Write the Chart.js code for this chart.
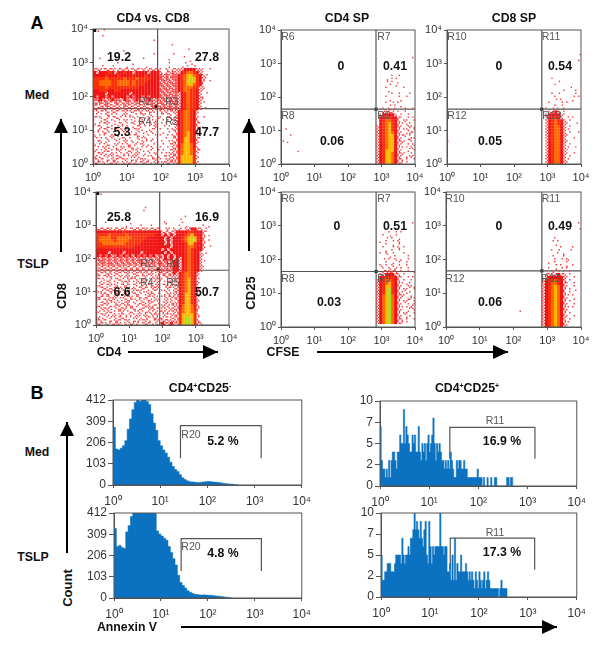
<!DOCTYPE html>
<html>
<head>
<meta charset="utf-8">
<title>CD4 CD8 flow panels</title>
<script src="https://cdn.jsdelivr.net/npm/chart.js@4"></script>
<style>
  html, body { margin: 0; padding: 0; background: #fff; }
  #page { position: relative; width: 600px; height: 645px; overflow: hidden; font-family: "Liberation Sans", Arial, sans-serif; }
  #page canvas { position: absolute; filter: blur(.45px); }
  #arrows { position: absolute; left: 0; top: 0; }
  .lbl { position: absolute; transform: translate(-50%, -50%); white-space: nowrap; color: #111; font-weight: bold; font-size: 12.3px; line-height: 1; }
  .big { font-size: 18px; color: #000; }
  .reg { font-weight: normal; font-size: 10.5px; color: #555; }
  .up { transform: translate(-50%, -50%) rotate(-90deg); font-size: 13px; }
  .lbl sup { font-size: 7px; line-height: 0; vertical-align: 4px; }
</style>
</head>
<body>
<div id="page">
  <svg id="arrows" width="600" height="645"></svg>
</div>
<script>
/* -----------------------
data
density rows: 45 rows top to bottom, "start|cells"
. empty, a-d one dot, e-g several dots, 2-6 solid red to green
-------------------------- */
const cd8Med = [
  ".d.b", "", "...a", "20|c", "", "26|a", "31|d", "10|a", "20|a.....b",
  "2|c.............d.............a",
  "7|b.................a......c",
  "8|a....c...........a....b.d",
  "3|a..b....c.....d.......c...d.a.b",
  "fefbefeafefebefaeafefea.e.feee2222eea.b",
  "2e22232e22322e2222e222e.fegee234432ea",
  "2222322232222322232222gfgegg23455432eb",
  "3333433333433343333222gfgfgg23456532ea",
  "3344443344443433332222fgegfg23456532f.b",
  "3344443344443433322222gfgfgg23455432a",
  "3333433333333332222222fgfgfg2344433ee",
  "2233322332222222222222gfgegg2344332ea",
  "2222e2222222e222222222fgfgfge234332e.b",
  "2g22g2g2222g2g22g2g222gfgegge234332ec",
  "gg2gfg2ggf2gfg2gfg2gfgfgfgfge234332ea",
  "efgfgfagfefgefgfagfgfegfefgge234332eb",
  "faefgfefeagfefefefagfefgegfge234332e",
  "efaefbefeaefebefefefeagfegfge234332e.a",
  "aebaecefabeaefaeabefcaebfbee234432e",
  ".ab.ecab.deac.abeabc.ababe.e234432a",
  "bae.dabecab.aebd.cab.ea.be.e234432f.b",
  "a.dbe.acb.eabd.ca.ebda.ab.ae234432e",
  "d.abea.cbe.abe.dab.ceab.a.ee234432fa",
  "abe.dca.ebda.cbe.ab.ea.b.a.f234432e.c",
  ".dabe.abceda.beac.dba.a.b.ef234432fa",
  "ab.ecab.d.eab.cadb.e.a.c.a.e234532e",
  "e.ab.deac.b.abecd.a.b.a.b.ef234532b",
  ".ab.e.acdbe.a.bcae.d.a..a.be235532fa",
  "abe.ca.bd.eabcd.eb.a.cb..aef235532e",
  "e.abdc.eab.ecdabe.c.a..a.bee245542a",
  "ab.eacbd.eabecd.ab.e.aa.b.ef245542e",
  "eabdecabeabdcaebd.ca.b.a.bee345543fa",
  "abeacdeb.acebdea.cb.eab.aeef345543b",
  "eacbdaebecabdeacb.ae.d.baefe355553e",
  "febadcefabeadcfbeacbeaa.eeff355553a",
  "efaebdfeabcefdabefacebbfefee355553f"
];
const cd8Tslp = [
  ".d", "", "", "", "", "16|b", "16|a", "", "30|a", "28|b",
  "3|a.......d...........e.....a",
  "10|c....a..b.........a.d.....a.c",
  "efefeafefeabefefeafefa.bf.e.f.ef22fe.a",
  "2222222223222222222222efefe222233222fa",
  "3333433333433333333322e2f2e222345322e.c",
  "34444334444433333222222e2e2223456532f",
  "34444434444333332222222f2e2223456532e.a",
  "33444444443333322222222e2f2222355322f",
  "3333333333333222222222222e2222344322e.b",
  "2222222222222222222222e2f22222343222a",
  "2222e2222e22222e2222222e2f222234322e.c",
  "2g2g2fg2g2g2f2g2g2g2fgf2e2f22234322ea",
  "gfgfgfgfgfgfgfgfgfgfgfe2f2e2e234322e",
  "fggfgfgfgfgfgfggfgfgfgfgfg22e234322eb",
  "gfgfggfgfgfgfgfgfgfgfggfgf22e234322e",
  "efefefefeefefefefeefeffgfg22e234322ea",
  "efefefefefefefefefefefgfgf22e234322e",
  "ebaefcefabeaefaeaefcafefef2e234432e",
  "fabeecabfdeacfabeabceabefeee234432a",
  "bae.dabecabfaebdecabfea.beef234532b",
  "afdbe.acbfeabdeca.ebda.abeae234532e",
  "dfabeaecbefabe.dabeceabeafee234532a",
  "abefdcaeebdafcbefabfea.bfaef234532e",
  "edabefabcedafbeacfdba.aeb.ef234532f",
  "abfecabedfeabecadbfe.a.ceaee235532a",
  "efabedeacfbeabecdfaeb.aebeef235532b",
  "fabeefacdbefaebcaefdea.eaebe235532e",
  "abefcaebdfeabcdfebfa.cbeaeff235532a",
  "efabdcfeabfecdabefcfa.eafbee245542e",
  "abfeacbdfeabecdfabfebaaebfef245542f",
  "eabdecabeabdcaebdfcafbeafbee345543a",
  "abeacdebfacebdeafcbfeabfaeef355553e",
  "eacbdaebecabdeacbfaefdfbaefe356653b",
  "febadcefabeadcfbeacbeaefeeff356653e",
  "efaebdfeabcefdabefaceb2fe2fe356653fe"
];
const cd25Cd4Med = [
  "", "", "", "", "", "", "", "", "", "44|a", "", "", "", "", "",
  "37|a.b", "35|d.ab", "34|.b.a.c.......a", "36|b.d", "35|a.....a", "36|c",
  "37|a.b...a", "33|..a...b..a", "36|d...c.....b", "35|a.b.a", "36|b.a.c.....a",
  "34|a.e.a..b..a", "34|feef.a.b",
  "33|e2222e.a.b..a", "33|223322fa.b.a", "33|234432e.ea.b", "33|234532fb.ca",
  "32|e234532ea.bfd", "1|b;32|e234532f.ae.b", "32|e234542ea.cfa",
  "3|a;32|e234552fbe.a", "32|e234552ea.dfb.a", "0|b;2|c;32|e234552fea.b", "32|e234552ea.b.ea",
  "32|e234552fb.afc", "5|d;32|e235552ea.d.b", "32|e235542fea.b", "32|e235542ea.cea",
  "32|e235542fe.a.b", "32|e235542ef.a"
];
const cd25Cd8Med = [
  "", "", "", "", "", "", "", "", "44|b", "", "44|a", "", "", "", "", "",
  "35|a", "37|b", "36|a", "41|b", "37|..a...a..a", "35|a.b.....a", "36|a.....b.a",
  "35|.b.a...c", "34|a...b.a", "36|a.b", "33|a.b.a.a", "33|.ef2e.a",
  "33|e2222ea", "33|e2332e.b.a", "33|e23432e.a", "33|e23432ea..b",
  "33|e23442e.a", "33|e23442eb", "33|e23442e.a..a", "33|e23442ea",
  "33|e23442e..b", "0|a;33|e23442ea", "33|e23442e.a", "33|e23442eb..a",
  "33|e23442ea", "33|e23442ea.b", "33|e23442e.a", "33|e23442eb", "33|e23442ea"
];
const cd25Cd4Tslp = [
  "", "", "", "", "", "", "", "", "", "", "44|a", "", "",
  "36|a.b.a", "34|a.d.b", "35|b.a.d", "33|c.a.b.e", "35|a.d.b", "34|a..b.e.a",
  "35|c.a.b", "33|a.e.b...a", "36|d.a...b", "34|b.a.e.c.b", "35|a.d.b..a",
  "33|e.a.e.b..a", "34|a.e.f.a.b", "34|feefe.a.b.d",
  "33|ef222fe.a", "33|233332fa.b.a", "32|e234432e.a.b", "32|e234532fb.ca",
  "32|e235532ea.bfd.a", "32|e235632f.ea.b", "32|e235632eb.ca",
  "32|e245642fea.d", "32|e245642ea.dfb.a", "32|e245642f.ea.b", "32|e245642ea.b.f",
  "32|e245642fb.afc", "32|e245642ea.d.b", "32|e245642f.ea.b", "32|e245642ea.ca",
  "32|e245642fe.a.b", "32|e245642ef.a"
];
const cd25Cd8Tslp = [
  "", "", "", "", "", "", "", "", "", "", "44|a", "", "44|b", "", "",
  "36|a", "35|b.a", "36|d", "38|a...a", "35|a.b...b", "37|a.c", "35|b...a",
  "36|a.b.e", "34|c.a...a", "36|b.a.c.a", "34|a.d.b.a", "33|a.e.b.a.a",
  "33|feef2fe.a", "33|e22222ea.b", "32|e233432e.a", "32|e234432fa.b",
  "32|e234542ea.b", "32|e234542f.a.c", "32|e234542e.a", "32|e234542fb.a",
  "32|e234542ea.d", "32|e234542f.a", "32|e234542ea.b", "32|e234542fb.a",
  "24|d;32|e234542ea", "32|e234542f.a", "32|e234542ea.b", "32|e234542e.a", "32|e234542fb", "32|e234542ea"
];

// quadrant gates and gate handles, in decades
const gateCd8Med = [1.90, 1.64];
const gateCd8Tslp = [1.915, 1.646];
const gateCd4Med = [2.836, 1.636];
const gateCd8SpMed = [2.83, 1.636];
const gateCd4Tslp = [2.84, 1.644];
const gateCd8SpTslp = [2.84, 1.663];
const handleCd8Med = [1.85, 1.71];
const handleCd8Tslp = [1.87, 1.68];
const cornerMark = [0.05, 3.96];

// annexin histograms, counts per bin
const annexinMed = [280, 175, 170, 178, 190, 215, 270, 320, 365, 400, 430, 405, 430, 440, 405, 390, 345, 300, 265, 215, 190, 170, 155, 135, 110, 90, 75, 65, 50, 35, 27, 20, 16, 15, 14, 12, 12, 13, 15, 16, 17, 16, 14, 14, 12, 11, 9, 7, 6, 4, 4, 2, 1, 0];
const annexinTslp = [337, 250, 255, 245, 240, 320, 350, 395, 425, 440, 450, 460, 470, 460, 465, 470, 450, 430, 325, 310, 300, 290, 280, 250, 220, 190, 160, 110, 75, 60, 48, 35, 28, 22, 18, 17, 15, 14, 15, 14, 13, 13, 11, 10, 9, 7, 6, 4, 3, 1, 0];
const annexinRegMed = [7, 3, 2, 2, 1, 2, 1, 3, 1, 3, 4, 4, 3, 2, 4, 4, 6, 5, 5, 9, 5, 7, 6, 5, 4, 4, 6, 5, 6, 4, 4, 7, 4, 3, 5, 4, 5, 3, 5, 6, 4, 5, 6, 8, 5, 3, 5, 4, 5, 4, 3, 3, 2, 3, 2, 3, 2, 4, 3, 2, 1, 1, 3, 2, 3, 3, 2, 2, 3, 2, 2, 1, 1, 1, 1, 1, 1, 1, 1, 2, 1, 1, 1, 0, 1, 0, 0, 1, 0, 0, 1, 0, 0, 1, 1, 0, 0, 0, 0, 0, 0, 0, 0, 1, 1, 0, 1, 1, 0];
const annexinRegTslp = [5, 2, 2, 3, 3, 4, 4, 4, 3, 3, 3, 4, 5, 5, 5, 5, 4, 7, 5, 4, 5, 5, 6, 5, 7, 7, 8, 10, 8, 9, 8, 7, 9, 7, 6, 8, 9, 5, 4, 9, 6, 4, 6, 5, 6, 6, 6, 6, 10, 6, 6, 5, 6, 6, 3, 3, 4, 2, 5, 2, 7, 2, 4, 3, 3, 5, 3, 3, 3, 4, 3, 2, 3, 2, 3, 2, 1, 3, 2, 1, 3, 2, 1, 2, 3, 1, 2, 3, 2, 1, 1, 1, 1, 1, 1, 1, 0, 1, 2, 1, 1, 1, 1, 0];
const r20Med = [1.43, 3.14, 130, 288];
const r20Tslp = [1.43, 3.14, 131, 288];
const r11Med = [1.42, 3.15, 3.2, 6.9];
const r11Tslp = [1.415, 3.14, 3.24, 7];

// tick labels
const decadeTicks = [1, 10, 100, 1000, 10000];
const decadeLabels = ["10\u2070", "10\u00b9", "10\u00b2", "10\u00b3", "10\u2074"];
const countTicks = [0, 103, 206, 309, 412];
const countLabels = ["0", "103", "206", "309", "412"];
const smallTicks = [0, 2.5, 5, 7.5, 10];
const smallLabels = ["0", "2", "5", "7", "10"];

/* -----------------------
helpers
-------------------------- */
const page = document.getElementById("page");
const blue = "#0a72c0";
const lineGray = "#555";
const tickFont = { family: "'Liberation Sans', Arial, sans-serif", size: 11 };

const frame = {
  id: "frame",
  afterDatasetsDraw(chart) {
    const a = chart.chartArea;
    chart.ctx.save();
    chart.ctx.strokeStyle = lineGray;
    chart.ctx.lineWidth = 1;
    chart.ctx.strokeRect(a.left, a.top, a.right - a.left, a.bottom - a.top);
    chart.ctx.restore();
  }
};

function addCanvas(box, left, top, right, bottom) {
  const c = document.createElement("canvas");
  c.width = box.r - box.l + left + right;
  c.height = box.b - box.t + top + bottom;
  c.style.left = (box.l - left) + "px";
  c.style.top = (box.t - top) + "px";
  page.appendChild(c);
  return c;
}

function logAxis(fit, pad) {
  return {
    type: "logarithmic",
    min: 1,
    max: 10000,
    afterBuildTicks(s) { s.ticks = decadeTicks.map(v => ({ value: v })); },
    afterFit(s) { if (s.isHorizontal()) s.height = fit; else s.width = fit; },
    grid: { drawOnChartArea: false, tickLength: 3, color: lineGray },
    border: { color: lineGray },
    ticks: {
      autoSkip: false, maxRotation: 0, padding: pad, color: "#333", font: tickFont,
      callback: v => decadeLabels[decadeTicks.indexOf(v)]
    }
  };
}

// turns the density rows into one dataset per colour
const dotSpots = { a: [[-.25, -.25]], b: [[.25, -.25]], c: [[-.25, .25]], d: [[.25, .25]],
  e: [[-.25, -.25], [.25, .25]], f: [[.25, -.25], [-.25, .25]],
  g: [[-.25, -.25], [.25, -.25], [-.25, .25], [.25, .25]] };
const solidColors = { 2: "#f01414", 3: "#f9300a", 4: "#ff6a00", 5: "#ffb800", 6: "#a8e020" };

function densitySets(rows) {
  const dots = [];
  const solids = { 2: [], 3: [], 4: [], 5: [], 6: [] };
  const cell = 4 / 45;
  rows.forEach((row, r) => {
    row.split(";").forEach(part => {
      const bits = part.split("|");
      const start = bits.length > 1 ? Number(bits[0]) : 0;
      const cells = bits[bits.length - 1];
      for (let i = 0; i < cells.length; i++) {
        const ch = cells[i];
        const cx = start + i + .5;
        const cy = r + .5;
        if (dotSpots[ch]) {
          dotSpots[ch].forEach(o => dots.push({ x: 10 ** ((cx + o[0]) * cell), y: 10 ** (4 - (cy + o[1]) * cell) }));
        } else if (solids[ch]) {
          solids[ch].push({ x: 10 ** (cx * cell), y: 10 ** (4 - cy * cell) });
        }
      }
    });
  });
  const sets = [{ data: dots, pointRadius: 1, backgroundColor: "#f63a3a" }];
  Object.keys(solids).forEach(k => {
    sets.push({ data: solids[k], pointRadius: 2.2, backgroundColor: solidColors[k] });
  });
  return sets;
}

function flowChart(box, rows, gate, handle, corner) {
  const at = v => 10 ** v;
  const sets = densitySets(rows);
  sets.push({ type: "line", data: [{ x: at(gate[0]), y: 1 }, { x: at(gate[0]), y: 10000 }], borderColor: lineGray, pointRadius: 0 });
  sets.push({ type: "line", data: [{ x: 1, y: at(gate[1]) }, { x: 10000, y: at(gate[1]) }], borderColor: lineGray, pointRadius: 0 });
  const marks = [{ x: at(handle[0]), y: at(handle[1]) }];
  if (corner) marks.push({ x: at(corner[0]), y: at(corner[1]) });
  sets.push({ data: marks, pointRadius: 2.2, backgroundColor: "#000" });
  sets.forEach(s => { s.pointStyle = s.type ? false : "rect"; s.pointBorderWidth = 0; s.borderWidth = s.type ? 1.2 : 0; });

  new Chart(addCanvas(box, 34, 10, 14, 22), {
    type: "scatter",
    data: { datasets: sets },
    plugins: [frame],
    options: {
      responsive: false,
      animation: false,
      layout: { padding: { top: 10, right: 14 } },
      plugins: { legend: { display: false }, tooltip: { enabled: false } },
      scales: { x: logAxis(22, 4), y: logAxis(34, 2) }
    }
  });
}

function histChart(box, counts, step, bracket, ticks, labels, top) {
  const bars = counts.map((v, i) => ({ x: 10 ** (i * step), y: v }));
  const b = bracket;
  const gate = [
    { x: 10 ** b[0], y: b[2] }, { x: 10 ** b[0], y: b[3] },
    { x: 10 ** b[1], y: b[3] }, { x: 10 ** b[1], y: b[2] }
  ];
  new Chart(addCanvas(box, 34, 10, 14, 24), {
    type: "line",
    data: {
      datasets: [
        { data: bars, stepped: true, fill: "origin", backgroundColor: blue, borderColor: blue, borderWidth: .6, pointRadius: 0 },
        { data: gate, borderColor: lineGray, borderWidth: 1.2, pointRadius: 0, fill: false }
      ]
    },
    plugins: [frame],
    options: {
      responsive: false,
      animation: false,
      layout: { padding: { top: 10, right: 14 } },
      plugins: { legend: { display: false }, tooltip: { enabled: false } },
      scales: {
        x: Object.assign(logAxis(24, 6), { ticks: { autoSkip: false, maxRotation: 0, padding: 6, color: "#333", font: { family: tickFont.family, size: 12 }, callback: v => decadeLabels[decadeTicks.indexOf(v)] } }),
        y: {
          min: 0,
          max: top,
          afterBuildTicks(s) { s.ticks = ticks.map(v => ({ value: v })); },
          afterFit(s) { s.width = 34; },
          grid: { drawOnChartArea: false, tickLength: 5, color: lineGray },
          border: { color: lineGray },
          ticks: { autoSkip: false, padding: 2, color: "#333", font: { family: tickFont.family, size: 12 }, callback: v => labels[ticks.indexOf(v)] }
        }
      }
    }
  });
}

function label(text, x, y, cls) {
  const d = document.createElement("div");
  d.className = "lbl " + (cls || "");
  d.innerHTML = text;
  d.style.left = x + "px";
  d.style.top = y + "px";
  page.appendChild(d);
}

function arrow(x1, y1, x2, y2, hx, hy) {
  // shaft from (x1,y1) to the tip (x2,y2), head base half width hy
  const svg = document.getElementById("arrows");
  const ns = "http://www.w3.org/2000/svg";
  const l = document.createElementNS(ns, "line");
  l.setAttribute("x1", x1); l.setAttribute("y1", y1);
  l.setAttribute("x2", x2); l.setAttribute("y2", y2);
  l.setAttribute("stroke", "#000"); l.setAttribute("stroke-width", 2);
  svg.appendChild(l);
  const p = document.createElementNS(ns, "polygon");
  const pts = x1 === x2
    ? [[x2, y2], [x2 - hy, y2 + hx], [x2 + hy, y2 + hx]]
    : [[x2, y2], [x2 - hx, y2 - hy], [x2 - hx, y2 + hy]];
  p.setAttribute("points", pts.map(q => q.join(",")).join(" "));
  svg.appendChild(p);
}

/* -----------------------
panels
-------------------------- */
flowChart({ l: 93, t: 29, r: 229, b: 164 }, cd8Med, gateCd8Med, handleCd8Med, cornerMark);
flowChart({ l: 96, t: 192, r: 229, b: 325 }, cd8Tslp, gateCd8Tslp, handleCd8Tslp, cornerMark);
flowChart({ l: 281, t: 30, r: 415, b: 164 }, cd25Cd4Med, gateCd4Med, gateCd4Med);
flowChart({ l: 447, t: 30, r: 581, b: 164 }, cd25Cd8Med, gateCd8SpMed, gateCd8SpMed);
flowChart({ l: 281, t: 192, r: 415, b: 327 }, cd25Cd4Tslp, gateCd4Tslp, gateCd4Tslp);
flowChart({ l: 446, t: 192, r: 581, b: 327 }, cd25Cd8Tslp, gateCd8SpTslp, gateCd8SpTslp);

histChart({ l: 113, t: 400, r: 303, b: 485 }, annexinMed, .05, r20Med, countTicks, countLabels, 412);
histChart({ l: 114, t: 513, r: 303, b: 598 }, annexinTslp, .05, r20Tslp, countTicks, countLabels, 412);
histChart({ l: 380, t: 401, r: 578, b: 486 }, annexinRegMed, .025, r11Med, smallTicks, smallLabels, 10);
histChart({ l: 381, t: 513, r: 578, b: 597 }, annexinRegTslp, .025, r11Tslp, smallTicks, smallLabels, 10);

/* -----------------------
text and arrows
-------------------------- */
label("A", 37, 23, "big");
label("B", 37, 393, "big");
label("CD4 vs. CD8", 153, 18);
label("CD4 SP", 347, 18);
label("CD8 SP", 514, 18);
label("Med", 37, 95);
label("TSLP", 33, 264);
label("CD8", 61, 296, "up");
label("CD4", 109, 352);
label("CD25", 250, 293, "up");
label("CFSE", 283, 352);

[["19.2", 119, 57], ["27.8", 207, 57], ["5.3", 122, 132], ["47.7", 207, 132],
 ["25.8", 119, 217], ["16.9", 207, 217], ["6.6", 122, 292], ["50.7", 207, 292],
 ["0", 341, 66], ["0.41", 395, 66], ["0.06", 332, 141],
 ["0", 499, 66], ["0.54", 560, 66], ["0.05", 490, 141],
 ["0", 337, 226], ["0.51", 395, 226], ["0.03", 329, 302],
 ["0", 499, 226], ["0.49", 560, 226], ["0.06", 490, 302],
 ["5.2 %", 223, 441], ["4.8 %", 223, 553], ["16.9 %", 502, 441], ["17.3 %", 502, 552]
].forEach(t => label(t[0], t[1], t[2]));

[["R2", 145, 101], ["R3", 172, 101], ["R4", 145, 121], ["R5", 172, 121],
 ["R2", 147, 263], ["R3", 173, 263], ["R4", 147, 282], ["R5", 173, 282],
 ["R6", 288, 36], ["R7", 384, 36], ["R8", 288, 115], ["R9", 384, 115],
 ["R10", 457, 36], ["R11", 551, 36], ["R12", 457, 115], ["R13", 552, 115],
 ["R6", 288, 198], ["R7", 384, 198], ["R8", 288, 278], ["R9", 384, 278],
 ["R10", 455, 198], ["R11", 551, 198], ["R12", 455, 278], ["R13", 551, 278],
 ["R20", 191, 434], ["R20", 191, 546], ["R11", 495, 420], ["R11", 495, 532]
].forEach(t => label(t[0], t[1], t[2], "reg"));

label("CD4<sup>+</sup>CD25<sup>-</sup>", 200, 388);
label("CD4<sup>+</sup>CD25<sup>+</sup>", 467, 388);
label("Med", 37, 452);
label("TSLP", 33, 557);
label("Count", 67, 588, "up");
label("Annexin V", 127, 627);

arrow(61, 252, 61, 119, 14, 7);
arrow(128, 352, 218, 352, 15, 7);
arrow(249, 251, 249, 119, 14, 7);
arrow(317, 352, 508, 352, 15, 7);
arrow(67, 553, 67, 422, 14, 7);
arrow(181, 627, 557, 627, 15, 7);
</script>
</body>
</html>
